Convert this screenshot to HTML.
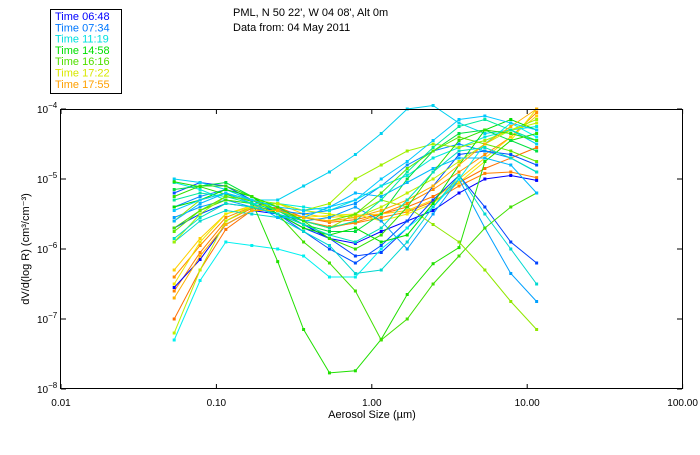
<!DOCTYPE html>
<html><head><meta charset="utf-8"><style>
body{margin:0;background:#fff;width:700px;height:450px;overflow:hidden}
svg{font-family:"Liberation Sans",sans-serif}
</style></head><body>
<svg id="chart" width="700" height="450" viewBox="0 0 700 450">
<rect x="0" y="0" width="700" height="450" fill="#fff"/>
<g>
<rect x="50.5" y="9.5" width="71" height="84" fill="none" stroke="#000" stroke-width="1"/>
<g id="legend-items" font-size="11"></g>
</g>
<text x="233" y="16" font-size="11">PML, N 50 22', W 04 08', Alt 0m</text>
<text x="233" y="31" font-size="11">Data from: 04 May 2011</text>
<g id="series"></g>
<rect x="60.5" y="109.5" width="622" height="279" fill="none" stroke="#000" stroke-width="1"/>
<g id="axes" font-size="10"></g>
<text x="372" y="418" font-size="11" text-anchor="middle">Aerosol Size (µm)</text>
<text transform="translate(29,249) rotate(-90)" font-size="11" text-anchor="middle">dV/d(log R) (cm³/cm⁻³)</text>
</svg>
<script>
const legendLabels=["Time 06:48","Time 07:34","Time 11:19","Time 14:58","Time 16:16","Time 17:22","Time 17:55"];
const legendColors=["#0000ff","#0078ff","#00e0e0","#00e000","#50e000","#d8e800","#ffa000"];
const xTickValues=[0.01,0.1,1,10,100];
const xTickLabels=["0.01","0.10","1.00","10.00","100.00"];
const yTickExps=[-4,-5,-6,-7,-8];
const sizes=[0.0535,0.0785,0.115,0.169,0.248,0.364,0.534,0.784,1.15,1.69,2.48,3.64,5.34,7.84,11.5];
const seriesColors=["#ff8000","#ff8c00","#ff7000","#ffd000","#f0e800","#0000ff","#0040ff","#0050ff","#0090ff","#00a0ff","#00d0f0","#00e8e0","#00f0f0","#00d8d0","#20e000","#00e040","#40e000","#90e800","#a0f000","#00e000","#c0f000","#00b8ff","#00e8a0","#60e800","#00c8ff","#ffb000","#30e000","#00e0c0"];
const s1=[-6.6,-6.05,-5.6,-5.42,-5.42,-5.6,-5.68,-5.63,-5.55,-5.47,-5.32,-5.1,-4.92,-4.9,-4.98];
const s2=[-6.4,-5.95,-5.55,-5.4,-5.45,-5.6,-5.7,-5.62,-5.5,-5.35,-5.15,-4.9,-4.65,-4.4,-4.05];
const s3=[-7.0,-6.3,-5.72,-5.45,-5.4,-5.55,-5.62,-5.58,-5.5,-5.4,-5.25,-5.05,-4.85,-4.7,-4.55];
const s4=[-6.3,-5.85,-5.5,-5.38,-5.35,-5.5,-5.55,-5.52,-5.5,-5.45,-5.3,-5.0,-4.7,-4.4,-4.1];
const s5=[-6.5,-5.9,-5.5,-5.4,-5.45,-5.55,-5.52,-5.5,-5.6,-5.5,-5.35,-5.05,-4.75,-4.45,-4.0];
const s6=[-6.55,-6.15,-5.65,-5.45,-5.5,-5.65,-5.85,-5.92,-5.75,-5.6,-5.45,-5.2,-5.0,-4.95,-5.02];
const s7=[-5.7,-5.5,-5.35,-5.4,-5.5,-5.7,-5.85,-6.1,-6.05,-5.7,-5.3,-4.95,-5.4,-5.9,-6.2];
const s8=[-5.2,-5.05,-5.1,-5.3,-5.5,-5.75,-6.0,-6.2,-5.95,-5.6,-5.1,-4.65,-4.6,-4.65,-4.8];
const s9=[-5.4,-5.25,-5.15,-5.3,-5.45,-5.5,-5.45,-5.35,-5.1,-4.8,-4.6,-4.5,-4.6,-4.7,-4.9];
const s10=[-5.55,-5.4,-5.3,-5.4,-5.5,-5.6,-5.55,-5.4,-5.6,-6.0,-5.5,-5.0,-5.7,-6.35,-6.75];
const s11=[-5.0,-5.05,-5.15,-5.3,-5.3,-5.1,-4.9,-4.65,-4.35,-4.0,-3.95,-4.2,-4.35,-4.3,-4.5];
const s12=[-5.05,-5.15,-5.3,-5.35,-5.35,-5.4,-5.45,-5.3,-5.1,-4.95,-4.7,-4.55,-4.4,-4.3,-4.25];
const s13=[-7.3,-6.45,-5.9,-5.95,-6.0,-6.1,-6.4,-6.4,-6.0,-5.7,-5.4,-5.0,-4.5,-4.2,-4.4];
const s14=[-5.9,-5.6,-5.45,-5.5,-5.55,-5.75,-5.95,-6.35,-6.3,-5.9,-5.4,-4.95,-5.5,-6.0,-6.5];
const s15=[-5.04,-5.11,-5.22,-5.32,-6.18,-7.15,-7.77,-7.74,-7.29,-6.65,-6.21,-5.98,-4.75,-4.45,-4.35];
const s16=[-5.15,-5.1,-5.05,-5.25,-5.45,-5.65,-5.75,-5.75,-5.5,-5.0,-4.6,-4.35,-4.3,-4.45,-4.6];
const s17=[-5.7,-5.45,-5.3,-5.35,-5.5,-5.9,-6.2,-6.6,-7.3,-7.0,-6.5,-6.1,-5.7,-5.4,-5.2];
const s18=[-5.6,-5.3,-5.2,-5.3,-5.45,-5.6,-5.7,-5.5,-5.3,-5.4,-5.65,-5.9,-6.3,-6.75,-7.15];
const s19=[-5.9,-5.5,-5.25,-5.3,-5.35,-5.45,-5.35,-5.0,-4.8,-4.6,-4.5,-4.55,-4.45,-4.3,-4.15];
const s20=[-5.4,-5.3,-5.15,-5.25,-5.5,-5.7,-5.8,-5.7,-5.9,-5.8,-5.35,-4.8,-4.3,-4.15,-4.3];
const s21=[-7.2,-6.3,-5.6,-5.4,-5.35,-5.45,-5.5,-5.55,-5.4,-5.2,-5.0,-4.75,-4.5,-4.3,-4.2];
const s22=[-5.6,-5.35,-5.2,-5.35,-5.55,-5.55,-5.4,-5.2,-5.25,-5.05,-4.85,-4.7,-4.7,-4.8,-5.2];
const s23=[-5.3,-5.2,-5.25,-5.35,-5.45,-5.6,-5.7,-5.6,-5.3,-4.9,-4.55,-4.25,-4.15,-4.3,-4.45];
const s24=[-5.75,-5.45,-5.25,-5.3,-5.45,-5.55,-5.6,-5.5,-5.2,-4.85,-4.6,-4.4,-4.5,-4.6,-4.75];
const s25=[-5.45,-5.3,-5.2,-5.3,-5.4,-5.45,-5.4,-5.3,-5.0,-4.75,-4.45,-4.15,-4.1,-4.2,-4.3];
const s26=[-6.7,-6.1,-5.65,-5.45,-5.45,-5.55,-5.6,-5.55,-5.45,-5.3,-5.1,-4.8,-4.5,-4.25,-4.0];
const s27=[-5.25,-5.1,-5.1,-5.25,-5.4,-5.6,-5.85,-6.0,-5.8,-5.4,-4.9,-4.45,-4.3,-4.35,-4.45];
const s28=[-5.85,-5.55,-5.35,-5.4,-5.5,-5.65,-5.8,-5.9,-5.7,-5.3,-4.9,-4.6,-4.55,-4.7,-4.9];
const allSeries=[s1,s2,s3,s4,s5,s6,s7,s8,s9,s10,s11,s12,s13,s14,s15,s16,s17,s18,s19,s20,s21,s22,s23,s24,s25,s26,s27,s28];

const NS="http://www.w3.org/2000/svg";
const X0=61,PXD=155.4,Y0=109,PYD=70;
function xs(v){return X0+(Math.log10(v)+2)*PXD;}
function ys(e){return Y0+(-4-e)*PYD;}
function mk(t,a,p){const el=document.createElementNS(NS,t);for(const k in a)el.setAttribute(k,a[k]);p.appendChild(el);return el;}

const lg=document.getElementById('legend-items');
legendLabels.forEach((l,i)=>{
  const t=mk('text',{x:55,y:20+i*11.3,fill:legendColors[i]},lg);
  
  
  t.textContent=l;
});

const ax=document.getElementById('axes');
xTickValues.forEach((v,i)=>{
  const x=xs(v);
  const a=mk('line',{x1:x,x2:x,y1:389,y2:384,stroke:'#000'},ax);
  
  
  const b=mk('line',{x1:x,x2:x,y1:109,y2:114,stroke:'#000'},ax);
  
  
  const t=mk('text',{x:x,y:406,'text-anchor':'middle'},ax);
  
  
  t.textContent=xTickLabels[i];
});
yTickExps.forEach(e=>{
  const y=ys(e);
  const a=mk('line',{x1:61,x2:66,y1:y,y2:y,stroke:'#000'},ax);
  
  
  const b=mk('line',{x1:677,x2:682,y1:y,y2:y,stroke:'#000'},ax);
  
  
  const t=mk('text',{x:37,y:y+4},ax);
  
  
  t.textContent='10';
  const s=mk('tspan',{dy:-5,'font-size':8},t);
  s.textContent='−'+(-e);
});

const sg=document.getElementById('series');
allSeries.forEach((vals,i)=>{
  const c=seriesColors[i];
  const g=mk('g',{},sg);
  
  
  const pts=vals.map((e,j)=>xs(sizes[j]).toFixed(1)+','+ys(e).toFixed(1)).join(' ');
  const pl=mk('polyline',{points:pts,fill:'none',stroke:c,'stroke-width':1},g);
  
  
  vals.forEach((e,j)=>{
    const r=mk('rect',{x:xs(sizes[j])-1.5,y:ys(e)-1.5,width:3,height:3,fill:c},g);
    
    
  });
});
</script>
</body></html>
